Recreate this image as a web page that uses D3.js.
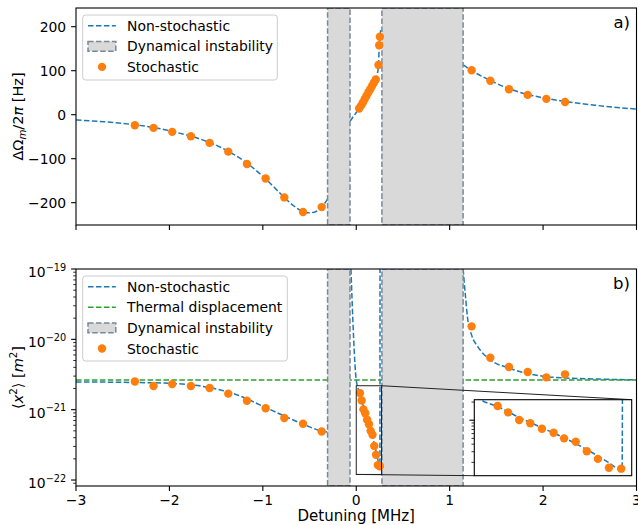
<!DOCTYPE html>
<html><head><meta charset="utf-8">
<script src="https://cdn.jsdelivr.net/npm/d3@7/dist/d3.min.js"></script>
<style>
html,body{margin:0;padding:0;background:#fff;}
svg{display:block;font-family:"DejaVu Sans",sans-serif;}
</style></head><body>
<svg id="chart" width="638" height="525"></svg>
<script>
// ---------------- data ----------------
const xTickValues = [-3, -2, -1, 0, 1, 2, 3];
const xTickLabels = ["−3", "−2", "−1", "0", "1", "2", "3"];
const freqTickValues = [-200, -100, 0, 100, 200];
const freqTickLabels = ["−200", "−100", "0", "100", "200"];
const dispTickValues = [1e-22, 1e-21, 1e-20, 1e-19];
const dispTickExponents = ["−22", "−21", "−20", "−19"];

const instabilityStart = [-0.307, 0.275];
const instabilityEnd = [-0.067, 1.144];
const thermalDisp = 2.64e-21;

// non-stochastic frequency shift (Hz), three branches
const freqCurveDetL = [-3, -2.7, -2.37, -2.17, -1.97, -1.77, -1.57, -1.37, -1.17, -0.97, -0.77, -0.67, -0.57, -0.5, -0.43, -0.37, -0.307];
const freqCurveL = [-12, -16, -23, -29, -38, -49, -63, -83, -110, -146, -188, -207, -220, -223, -220, -210, -192];
const freqCurveDetM = [-0.067, -0.03, 0, 0.04, 0.08, 0.12, 0.16, 0.2, 0.225, 0.238, 0.246, 0.253, 0.262];
const freqCurveM = [-15, -4, 5, 17, 32, 47, 62, 77, 92, 112, 155, 177, 192];
const freqCurveDetR = [1.144, 1.237, 1.433, 1.636, 1.836, 2.035, 2.235, 2.5, 2.75, 3];
const freqCurveR = [113, 100, 78, 59, 46, 37, 30, 23, 17, 13];

// non-stochastic displacement variance (m^2), three branches
const dispCurveDetL = [-3, -2.5, -2.0, -1.75, -1.5, -1.25, -1.0, -0.75, -0.5, -0.4, -0.307];
const dispCurveL = [2.48e-21, 2.45e-21, 2.37e-21, 2.24e-21, 1.97e-21, 1.58e-21, 1.12e-21, 7.9e-22, 5.7e-22, 5.1e-22, 4.8e-22];
const dispCurveDetM = [-0.057, 0, 0.011, 0.04, 0.078, 0.116, 0.154, 0.192, 0.23, 0.2535, 0.2545];
const dispCurveM = [1.0e-19, 2.63e-21, 2.19e-21, 1.68e-21, 1.10e-21, 7.5e-22, 5.1e-22, 3.3e-22, 2.0e-22, 1.48e-22, 1.3e-19];
const dispCurveDetR = [1.144, 1.17, 1.19, 1.24, 1.3, 1.436, 1.636, 1.85, 2.03, 2.25, 2.6, 3];
const dispCurveR = [1.0e-19, 3.98e-20, 2.09e-20, 1.10e-20, 7.9e-21, 5.1e-21, 3.9e-21, 3.24e-21, 2.95e-21, 2.82e-21, 2.72e-21, 2.66e-21];

// stochastic simulation points
const stochDet = [-2.37, -2.17, -1.97, -1.77, -1.57, -1.37, -1.17, -0.97, -0.77, -0.57, -0.37, 1.235, 1.435, 1.635, 1.835, 2.035, 2.235];
const stochFreq = [-24, -30, -39, -49, -64, -84, -112, -145, -188, -221, -210, 101, 77, 58, 45, 36, 29];
const stochDisp = [2.52e-21, 2.17e-21, 2.31e-21, 2.17e-21, 2.03e-21, 1.69e-21, 1.34e-21, 1.05e-21, 7.6e-22, 6.3e-22, 4.9e-22, 1.53e-20, 5.48e-21, 4.04e-21, 3.43e-21, 2.88e-21, 3.18e-21];
const stochDetFineA = [0.031, 0.05, 0.07, 0.09, 0.11, 0.13, 0.15, 0.17, 0.19, 0.209, 0.238, 0.246, 0.253];
const stochFreqFine = [14, 20, 27, 35, 43, 51, 58, 66, 73, 80, 113, 158, 177];
const stochDetFineB = [0.040, 0.058, 0.077, 0.096, 0.116, 0.136, 0.154, 0.174, 0.193, 0.212, 0.231, 0.252];
const stochDispFine = [1.72e-21, 1.35e-21, 1.01e-21, 8.9e-22, 7.2e-22, 6.2e-22, 5.0e-22, 4.4e-22, 3.05e-22, 2.28e-22, 1.63e-22, 1.57e-22];

// inset window
const insetDet = [0, 0.27];
const insetDisp = [1.2e-22, 2.19e-21];

// ---------------- layout ----------------
const BLUE = "#1f77b4", ORANGE = "#ff7f0e", GREEN = "#2ca02c";
const BOXFILL = "#d9d9d9", BOXEDGE = "#778899";
const DASH = "5.55,2.4";
const FS = 13.9;
const L = 76, R = 636.5;
const A = {top: 8, bottom: 225};
const B = {top: 269, bottom: 486};
const IN = {left: 474.3, right: 631.7, top: 399.7, bottom: 475.7};

const svg = d3.select("#chart");
const x = d3.scaleLinear().domain([-3, 3]).range([L, R]);
const yA = d3.scaleLinear().domain([-250.7, 242.5]).range([A.bottom, A.top]);
const yB = d3.scaleLog().domain([Math.pow(10, -22.085), 1e-19]).range([B.bottom, B.top]);
const xi = d3.scaleLinear().domain(insetDet).range([IN.left, IN.right]);
const yi = d3.scaleLog().domain(insetDisp).range([IN.bottom, IN.top]);

const defs = svg.append("defs");
function clip(id, x0, y0, w, h) {
  defs.append("clipPath").attr("id", id).append("rect")
    .attr("x", x0).attr("y", y0).attr("width", w).attr("height", h);
}
clip("clipA", L, A.top, R - L, A.bottom - A.top);
clip("clipB", L, B.top, R - L, B.bottom - B.top);
clip("clipI", IN.left, IN.top, IN.right - IN.left, IN.bottom - IN.top);

const zip = (a, b) => a.map((v, i) => [v, b[i]]);

function drawCurve(g, xs, ys, dets, vals, color) {
  g.append("path").datum(zip(dets, vals))
    .attr("d", d3.line().x(d => xs(d[0])).y(d => ys(d[1])).curve(d3.curveMonotoneX))
    .attr("fill", "none").attr("stroke", color).attr("stroke-width", 1.5)
    .attr("stroke-dasharray", DASH);
}
function drawBoxes(g, y0, y1) {
  instabilityStart.forEach((s, i) => {
    g.append("rect").attr("x", x(s)).attr("y", y0)
      .attr("width", x(instabilityEnd[i]) - x(s)).attr("height", y1 - y0)
      .attr("fill", BOXFILL).attr("stroke", BOXEDGE).attr("stroke-width", 1.5)
      .attr("stroke-dasharray", DASH);
  });
}
function drawPoints(g, xs, ys, dets, vals) {
  g.selectAll(null).data(zip(dets, vals)).enter().append("circle")
    .attr("cx", d => xs(d[0])).attr("cy", d => ys(d[1])).attr("r", 4.2)
    .attr("fill", ORANGE);
}

// ---------------- panel a ----------------
const gA = svg.append("g").attr("clip-path", "url(#clipA)");
drawCurve(gA, x, yA, freqCurveDetL, freqCurveL, BLUE);
drawCurve(gA, x, yA, freqCurveDetM, freqCurveM, BLUE);
drawCurve(gA, x, yA, freqCurveDetR, freqCurveR, BLUE);
drawBoxes(gA, A.top, A.bottom);
drawPoints(gA, x, yA, stochDet, stochFreq);
drawPoints(gA, x, yA, stochDetFineA, stochFreqFine);

// ---------------- panel b ----------------
const gB = svg.append("g").attr("clip-path", "url(#clipB)");
drawCurve(gB, x, yB, dispCurveDetL, dispCurveL, BLUE);
drawCurve(gB, x, yB, dispCurveDetM, dispCurveM, BLUE);
drawCurve(gB, x, yB, dispCurveDetR, dispCurveR, BLUE);
gB.append("line").attr("x1", L).attr("x2", R).attr("y1", yB(thermalDisp)).attr("y2", yB(thermalDisp))
  .attr("stroke", GREEN).attr("stroke-width", 1.5).attr("stroke-dasharray", DASH);
drawBoxes(gB, B.top, B.bottom);
drawPoints(gB, x, yB, stochDet, stochDisp);
drawPoints(gB, x, yB, stochDetFineB, stochDispFine);

// inset indicator + connectors
const ix0 = x(insetDet[0]), ix1 = x(insetDet[1]);
const iy0 = yB(insetDisp[1]), iy1 = yB(insetDisp[0]);
svg.append("rect").attr("x", ix0).attr("y", iy0).attr("width", ix1 - ix0).attr("height", iy1 - iy0)
  .attr("fill", "none").attr("stroke", "#222").attr("stroke-width", 1);
svg.append("line").attr("x1", ix1).attr("y1", iy0).attr("x2", IN.right).attr("y2", IN.top)
  .attr("stroke", "#222").attr("stroke-width", 1);
svg.append("line").attr("x1", ix0).attr("y1", iy1).attr("x2", IN.left).attr("y2", IN.bottom)
  .attr("stroke", "#222").attr("stroke-width", 1);

// inset
svg.append("rect").attr("x", IN.left).attr("y", IN.top).attr("width", IN.right - IN.left)
  .attr("height", IN.bottom - IN.top).attr("fill", "#fff");
const gI = svg.append("g").attr("clip-path", "url(#clipI)");
drawCurve(gI, xi, yi, dispCurveDetM, dispCurveM, BLUE);
drawPoints(gI, xi, yi, stochDetFineB, stochDispFine);
svg.append("rect").attr("x", IN.left).attr("y", IN.top).attr("width", IN.right - IN.left)
  .attr("height", IN.bottom - IN.top).attr("fill", "none").attr("stroke", "#000").attr("stroke-width", 1.1);
// inset y ticks (log)
const insetTicks = [];
[1e-22, 1e-21].forEach(dec => { for (let k = 1; k < 10; k++) { const v = k * dec; if (v >= insetDisp[0] && v <= insetDisp[1]) insetTicks.push([v, k === 1]); } });
insetTicks.forEach(([v, major]) => {
  svg.append("line").attr("x1", IN.left).attr("x2", IN.left - (major ? 4.9 : 2.8))
    .attr("y1", yi(v)).attr("y2", yi(v)).attr("stroke", "#000").attr("stroke-width", major ? 1.1 : 0.8);
});

// ---------------- legends ----------------
function legend(x0, y0, w, h, items) {
  const g = svg.append("g");
  g.append("rect").attr("x", x0).attr("y", y0).attr("width", w).attr("height", h).attr("rx", 3)
    .attr("fill", "#fff").attr("fill-opacity", 0.8).attr("stroke", "#cccccc").attr("stroke-width", 1);
  items.forEach((it, i) => {
    const c = y0 + 10.7 + i * 20.6;
    if (it.type === "line") {
      g.append("line").attr("x1", 88).attr("x2", 115.8).attr("y1", c).attr("y2", c)
        .attr("stroke", it.color).attr("stroke-width", 1.5).attr("stroke-dasharray", DASH);
    } else if (it.type === "box") {
      g.append("rect").attr("x", 88).attr("y", c - 4.9).attr("width", 27.8).attr("height", 9.8)
        .attr("fill", BOXFILL).attr("stroke", BOXEDGE).attr("stroke-width", 1.5).attr("stroke-dasharray", DASH);
    } else {
      g.append("circle").attr("cx", 102).attr("cy", c).attr("r", 4.2).attr("fill", ORANGE);
    }
    g.append("text").attr("x", 127).attr("y", c + 5).attr("font-size", FS).attr("fill", "#000").text(it.label);
  });
}
legend(82.7, 15, 194.6, 65, [
  {type: "line", color: BLUE, label: "Non-stochastic"},
  {type: "box", label: "Dynamical instability"},
  {type: "dot", label: "Stochastic"}
]);
legend(82.7, 276, 204.6, 85, [
  {type: "line", color: BLUE, label: "Non-stochastic"},
  {type: "line", color: GREEN, label: "Thermal displacement"},
  {type: "box", label: "Dynamical instability"},
  {type: "dot", label: "Stochastic"}
]);

// ---------------- axes ----------------
function frame(top, bottom) {
  svg.append("rect").attr("x", L).attr("y", top).attr("width", R - L).attr("height", bottom - top)
    .attr("fill", "none").attr("stroke", "#000").attr("stroke-width", 1.1);
}
frame(A.top, A.bottom);
frame(B.top, B.bottom);

// x ticks
[A.bottom, B.bottom].forEach((yb, pi) => {
  xTickValues.forEach((v, i) => {
    svg.append("line").attr("x1", x(v)).attr("x2", x(v)).attr("y1", yb).attr("y2", yb + 4.9)
      .attr("stroke", "#000").attr("stroke-width", 1.1);
    if (pi === 1) {
      svg.append("text").attr("x", x(v)).attr("y", yb + 19.3).attr("text-anchor", "middle")
        .attr("font-size", FS).text(xTickLabels[i]);
    }
  });
});
// y ticks panel a
freqTickValues.forEach((v, i) => {
  svg.append("line").attr("x1", L).attr("x2", L - 4.9).attr("y1", yA(v)).attr("y2", yA(v))
    .attr("stroke", "#000").attr("stroke-width", 1.1);
  svg.append("text").attr("x", L - 9.8).attr("y", yA(v) + 5).attr("text-anchor", "end")
    .attr("font-size", FS).text(freqTickLabels[i]);
});
// y ticks panel b (log)
const [dlo, dhi] = yB.domain();
for (let e = -23; e <= -19; e++) {
  for (let k = 2; k < 10; k++) {
    const v = k * Math.pow(10, e);
    if (v > dlo && v < dhi) {
      svg.append("line").attr("x1", L).attr("x2", L - 2.8).attr("y1", yB(v)).attr("y2", yB(v))
        .attr("stroke", "#000").attr("stroke-width", 0.8);
    }
  }
}
dispTickValues.forEach((v, i) => {
  svg.append("line").attr("x1", L).attr("x2", L - 4.9).attr("y1", yB(v)).attr("y2", yB(v))
    .attr("stroke", "#000").attr("stroke-width", 1.1);
  const t = svg.append("text").attr("x", L - 9.8).attr("y", yB(v) + 8).attr("text-anchor", "end")
    .attr("font-size", FS);
  t.append("tspan").text("10");
  t.append("tspan").attr("font-size", FS * 0.7).attr("dy", -6.5).text(dispTickExponents[i]);
});

// panel labels
svg.append("text").attr("x", 630).attr("y", 27.5).attr("text-anchor", "end").attr("font-size", 16.5).text("a)");
svg.append("text").attr("x", 630).attr("y", 289).attr("text-anchor", "end").attr("font-size", 16.5).text("b)");

// axis labels
svg.append("text").attr("x", (L + R) / 2).attr("y", 521).attr("text-anchor", "middle")
  .attr("font-size", 15).text("Detuning [MHz]");

const ylA = svg.append("text").attr("transform", "translate(23," + ((A.top + A.bottom) / 2) + ") rotate(-90)")
  .attr("text-anchor", "middle").attr("font-size", 14.5);
ylA.append("tspan").text("ΔΩ");
ylA.append("tspan").attr("font-style", "italic").attr("font-size", 10.2).attr("dy", 3).text("m");
ylA.append("tspan").attr("dy", -3).text("/2");
ylA.append("tspan").attr("font-style", "italic").text("π");
ylA.append("tspan").text(" [Hz]");

const ylB = svg.append("text").attr("transform", "translate(23," + ((B.top + B.bottom) / 2) + ") rotate(-90)")
  .attr("text-anchor", "middle").attr("font-size", 14.5);
ylB.append("tspan").text("⟨");
ylB.append("tspan").attr("font-style", "italic").text("x");
ylB.append("tspan").attr("font-size", 10.2).attr("dy", -6).text("2");
ylB.append("tspan").attr("dy", 6).text("⟩  [");
ylB.append("tspan").attr("font-style", "italic").text("m");
ylB.append("tspan").attr("font-size", 10.2).attr("dy", -6).text("2");
ylB.append("tspan").attr("dy", 6).text("]");
</script>
</body></html>
